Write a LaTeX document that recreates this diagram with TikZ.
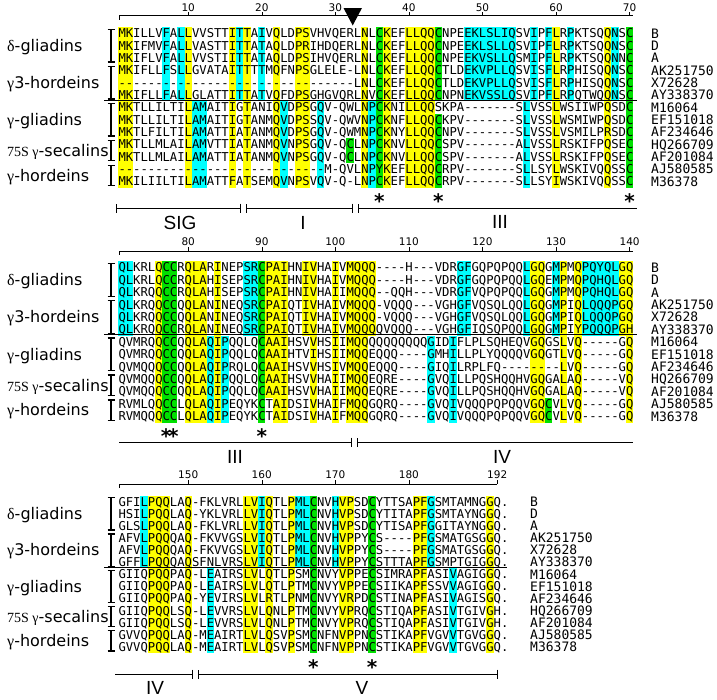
\documentclass[tikz,border=0pt]{standalone}
\usepackage{fontspec}
\setsansfont{DejaVu Sans}
\setmonofont{DejaVu Sans Mono}
\newfontfamily\grkfont{Liberation Serif}
\newfontfamily\segfont{Liberation Sans}
\usetikzlibrary{arrows.meta,positioning}

\definecolor{hlyellow}{RGB}{255,255,0}
\definecolor{hlcyan}{RGB}{0,255,255}
\definecolor{hlgreen}{RGB}{0,224,0}

\tikzset{
  seqtext/.style={anchor=base west,inner sep=0pt,font=\ttfamily\fontsize{12.22}{14}\selectfont},
  acctext/.style={anchor=base west,inner sep=0pt,font=\ttfamily\fontsize{13}{15}\selectfont},
  grouplabel/.style={anchor=west,inner sep=0pt,font=\sffamily\fontsize{16}{18}\selectfont},
  scalenum/.style={inner sep=0pt,font=\sffamily\fontsize{10.5}{12}\selectfont},
  seglabel/.style={inner sep=0pt,font=\segfont\fontsize{19}{22}\selectfont},
  starmark/.style={anchor=base,inner sep=0pt,font=\sffamily\bfseries\fontsize{20}{22}\selectfont},
  segline/.style={line width=0.9pt},
  grpbar/.style={line width=1.3pt},
  sepline/.style={line width=1.2pt},
}

\begin{document}
\begin{tikzpicture}[x=1pt,y=-1pt,>={Bar[width=9pt]}]
\useasboundingbox (0,0) rectangle (717,699);

% ---------- block 1 (1-70)
\def\yB{33.3}\def\sep{12.35}
\foreach \ca/\cb/\ra/\rb/\hc in {1/2/1/13/hlyellow, 7/7/1/6/hlcyan, 9/9/1/6/hlcyan,
  10/10/1/13/hlyellow, 11/12/7/13/hlcyan, 16/16/1/13/hlyellow, 17/17/1/6/hlcyan,
  18/18/1/13/hlyellow, 20/20/1/6/hlcyan, 22/22/1/13/hlyellow, 23/23/7/13/hlcyan,
  25/26/1/13/hlyellow, 28/28/7/13/hlcyan, 32/32/10/11/hlgreen, 34/34/1/13/hlyellow,
  35/35/7/13/hlcyan, 36/36/1/13/hlgreen, 37/37/1/13/hlyellow, 40/43/1/13/hlyellow,
  44/44/1/6/hlgreen, 44/44/8/13/hlgreen, 48/54/1/6/hlcyan, 56/56/7/13/hlcyan,
  57/57/1/6/hlcyan, 59/59/1/6/hlcyan, 60/60/1/13/hlyellow, 62/62/1/6/hlcyan,
  67/67/1/13/hlyellow, 68/68/1/6/hlcyan, 70/70/1/13/hlgreen}
  \fill[\hc] ({118.3+(\ca-1)*7.357},{\yB+(\ra-1.5)*\sep}) rectangle ({118.3+\cb*7.357},{\yB+(\rb-0.5)*\sep});
\foreach \r/\sq in {
  1/MKILLVFALLVVSTTITTAIVQLDPSVHVQERLNLCKEFLLQQCNPEEKLSLIQSVIPFLRPKTSQQNSC,
  2/MKIFMVFALLVASTTITTATAQLDPRIHDQERLNLCKEFLLQQCNPEEKLSLLQSVIPFLRPKTSQQNSC,
  3/MKIFLVFALLVVSTIITTATAQLDPSIHVQERLNLCKEFLLQQCNPEEKVSLLQSMIPFLRPKTSQQNNC,
  4/MKIFLLFSLLGVATAITTTTMQFNPSGLELE-LNLCKEFLLQQCTLDEKVPLLQSVISFLRPHISQQNSC,
  5/--------------------------------LNLCKEFLLQQCTLDEKVPLLQSVISFLRPHISQQNSC,
  6/MKIFLLFALLGLATTITTATVQFDPSGHGVQRLNVCKEFLLQQCNPNEKVSSLQSVIPFLRPQTWQQNSC,
  7/MKTLLILTILAMAITIGTANIQVDPSGQV-QWLNPCKNILLQQSKPA-------SLVSSLWSIIWPQSDC,
  8/MKTLLILTILAMAITIGTANMQVDPSSQV-QWVNPCKNFLLQQCKPV-------SLVSSLWSMIWPQSDC,
  9/MKTLFILTILAMATTIATANMQVDPSGQV-QWMNPCKNYLLQQCNPV-------SLVSSLVSMILPRSDC,
  10/MKTLLMLAILAMVTTIATANMQVNPSGQV-QCLNPCKNVLLQQCSPV-------ALVSSLRSKIFPQSEC,
  11/MKTLLMLAILAMATTIATANMQVNPSGQV-QCLNPCKNVLLQQCSPV-------ALVSSLRSKIFPQSEC,
  12/----------------------------M-QVLNPYKEFLLQQCRPV-------SLLSYLWSKIVQQSSC,
  13/MKILIILTILAMATTFATSEMQVNPSVQV-Q-LNPCKEFLLQQCRPV-------SLLSYIWSKIVQQSSC}
  \node[seqtext] (one-\r) at (118.3,{\yB+(\r-1)*\sep+4.45}) {\sq};

% scale 1
\draw (119.3,15.5) -- (633,15.5) (119.3,15.5) -- ++(0,4);
\foreach \c in {10,20,...,70}{
  \draw ({114.62+7.357*\c},15.5) -- ++(0,-4);
  \node[scalenum] (tick1-\c) at ({114.62+7.357*\c},7.5) {\c};
}
\fill (343.5,8) -- (362,8) -- (352.7,25.5) -- cycle;

% stars and regions 1
\foreach \c in {36,44,70}
  \node[starmark] (star1-\c) at ({114.62+7.357*\c},208.5) {*};
\draw[segline,<->] (116,208) -- (241,208);
\draw[segline,<->] (246,208) -- (353,208);
\draw[segline,<-] (358,208) -- (637,208);
\node[seglabel] (sig) at (180,223) {SIG};
\node[seglabel] (reg1) at (303,223) {I};
\node[seglabel] (reg3a) at (500,222) {III};

% ---------- block 2 (71-140)
\def\yB{267.5}\def\sep{12.4}
\foreach \ca/\cb/\ra/\rb/\hc in {1/2/1/6/hlcyan, 6/6/1/13/hlyellow, 7/8/1/13/hlgreen,
  10/12/1/13/hlyellow, 13/13/7/13/hlcyan, 14/14/1/13/hlyellow, 15/15/7/13/hlcyan,
  18/19/1/6/hlcyan, 20/20/1/13/hlgreen, 21/21/1/11/hlyellow, 22/23/1/13/hlyellow,
  26/26/1/6/hlyellow, 27/27/1/13/hlyellow, 30/30/1/13/hlyellow, 32/34/1/13/hlyellow,
  35/35/1/6/hlyellow, 43/43/7/13/hlcyan, 46/46/7/13/hlcyan, 47/48/1/6/hlcyan,
  56/56/1/6/hlcyan, 57/58/1/13/hlyellow, 59/59/12/13/hlgreen, 60/60/1/6/hlcyan,
  61/61/1/13/hlyellow, 63/63/1/13/hlyellow, 64/68/1/6/hlcyan, 69/69/1/6/hlyellow,
  70/70/1/13/hlyellow}
  \fill[\hc] ({118.3+(\ca-1)*7.357},{\yB+(\ra-1.5)*\sep}) rectangle ({118.3+\cb*7.357},{\yB+(\rb-0.5)*\sep});
\foreach \r/\sq in {
  1/QLKRLQCCRQLARINEPSRCPAIHNIVHAIVMQQQ----H---VDRGFGQPQPQQLGQGMPMQPQYQLGQ,
  2/QLKRLQCCRQLAHISEPSRCPAIHNIVHAIVMQQQ----H---VDRGFGQPQPQQLGQEMPMQPQHQLGQ,
  3/QLKRQQCCRQLAHISEPSRCPAIHNIVHAIIMQQQ--QQH---VDRGFVQPQPQQLGQGMPMQPQHQLGQ,
  4/QLKRQQCCQQLANINEQSRCPAIQTIVHAIVMQQQ-VQQQ---VGHGFVQSQLQQLGQGMPIQLQQQPGQ,
  5/QLKRQQCCQQLANINEQSRCPAIQTIVHAIVMQQQ-VQQQ---VGHGFVQSQLQQLGQGMPIQLQQQPGQ,
  6/QLKRQQCCRQLANINEQSRCPAIQTIVHAIVMQQQQVQQQ---VGHGFIQSQPQQLGQGMPIYPQQQPGH,
  7/QVMRQQCCQQLAQIPQQLQCAAIHSVVHSIIMQQQQQQQQQQGIDIFLPLSQHEQVGQGSLVQ-----GQ,
  8/QVMRQQCCQQLAQIPQQLQCAAIHTVIHSIIMQQEQQQ----GMHILLPLYQQQQVGQGTLVQ-----GQ,
  9/QVMQQQCCQQLAQIPRQLQCAAIHSVVHSIVMQQEQQQ----GIQILRPLFQ--------LVQ-----GQ,
  10/QVMQQQCCQQLAQIPQQLQCAAIHSVVHAIIMQQEQRE----GVQILLPQSHQQHVGQGALAQ-----VQ,
  11/QVMQQQCCQQLAQIPQQLQCAAIHSVVHAIIMQQEQRE----GVQILLPQSHQQHVGQGALAQ-----VQ,
  12/RVMLQQCCLQLAQIPEQYKCTAIDSIVHAIFMQQGQRQ----GVQIVQQQPQPQQVGQCVLVQ-----GQ,
  13/RVMQQQCCLQLAQIPEQYKCTAIDSIVHAIFMQQGQRQ----GVQIVQQQPQPQQVGQCVLVQ-----GQ}
  \node[seqtext] (two-\r) at (118.3,{\yB+(\r-1)*\sep+4.45}) {\sq};

% scale 2
\draw (119.3,251) -- (633,251) (119.3,251) -- ++(0,4);
\foreach \c in {10,20,...,70}{
  \draw ({114.62+7.357*\c},251) -- ++(0,-4);
  \node[scalenum] (tick2-\c) at ({114.62+7.357*\c},242) {\the\numexpr\c+70\relax};
}

% stars and regions 2
\foreach \c in {7,8,20}
  \node[starmark] (star2-\c) at ({114.62+7.357*\c},443.5) {*};
\draw[segline,->] (119,442) -- (352,442);
\draw[segline,<-] (357,442) -- (633,442);
\node[seglabel] (reg3b) at (235,457) {III};
\node[seglabel] (reg4a) at (502,457) {IV};

% ---------- block 3 (141-192)
\def\yB{501.7}\def\sep{12.1}
\foreach \ca/\cb/\ra/\rb/\hc in {4/4/1/6/hlcyan, 5/7/1/13/hlyellow, 10/10/1/13/hlyellow,
  13/13/7/13/hlcyan, 18/19/1/13/hlyellow, 20/20/1/6/hlcyan, 21/21/1/13/hlyellow,
  24/24/1/13/hlyellow, 25/26/1/6/hlcyan, 27/27/1/13/hlgreen, 30/30/1/6/hlcyan,
  31/32/1/13/hlyellow, 35/35/1/13/hlgreen, 41/42/1/13/hlyellow, 43/43/1/6/hlcyan,
  46/46/7/13/hlcyan, 51/51/1/13/hlyellow}
  \fill[\hc] ({118.3+(\ca-1)*7.357},{\yB+(\ra-1.5)*\sep}) rectangle ({118.3+\cb*7.357},{\yB+(\rb-0.5)*\sep});
\foreach \r/\sq in {
  1/GFILPQQLAQ-FKLVRLLVIQTLPMLCNVHVPSDCYTTSAPFGSMTAMNGGQ.,
  2/HSILPQQLAQ-YKLVRLLVIQTLPMLCNVHVPSDCYTITAPFGSMTAYNGGQ.,
  3/GLSLPQQLAQ-FKLVRLLVIQTLPMLCNVHVPSDCYTISAPFGGITAYNGGQ.,
  4/AFVLPQQQAQ-FKVVGSLVIQTLPMLCNVHVPPYCS----PFGSMATGSGGQ.,
  5/AFVLPQQQAQ-FKVVGSLVIQTLPMLCNVHVPPYCS----PFGSMATGSGGQ.,
  6/GFFLPQQQAQSFNLVRSLVIQTLPMLCNVHVPPYCSTTTAPFGSMPTGIGGQ.,
  7/GIIQPQQPAQ-LEAIRSLVLQTLPSMCNVYVPPECSIMRAPFASIVAGIGGQ.,
  8/GIIQPQQPAQ-LEAIRSLVLQTLPTMCNVYVPPECSIIKAPFSSVVAGIGGQ.,
  9/GIIQPQQPAQ-YEVIRSLVLRTLPNMCNVYVRPDCSTINAPFASIVAGISGQ.,
  10/GIIQPQQLSQ-LEVVRSLVLQNLPTMCNVYVPRQCSTIQAPFASIVTGIVGH.,
  11/GIIQPQQLSQ-LEVVRSLVLQNLPTMCNVYVPRQCSTIQAPFASIVTGIVGH.,
  12/GVVQPQQLAQ-MEAIRTLVLQSVPSMCNFNVPPNCSTIKAPFVGVVTGVGGQ.,
  13/GVVQPQQLAQ-MEAIRTLVLQSVPSMCNFNVPPNCSTIKAPFVGVVTGVGGQ.}
  \node[seqtext] (three-\r) at (118.3,{\yB+(\r-1)*\sep+4.45}) {\sq};

% scale 3
\draw (119.3,484) -- (497.2,484) (119.3,484) -- ++(0,4);
\foreach \c/\lab in {10/150,20/160,30/170,40/180,52/192}{
  \draw ({114.62+7.357*\c},484) -- ++(0,-4);
  \node[scalenum] (tick3-\c) at ({114.62+7.357*\c},474.5) {\lab};
}

% stars and regions 3
\foreach \c in {27,35}
  \node[starmark] (star3-\c) at ({114.62+7.357*\c},674.5) {*};
\draw[segline,->] (115,674) -- (193,674);
\draw[segline,<->] (198,674) -- (498,674);
\node[seglabel] (reg4b) at (155,688) {IV};
\node[seglabel] (reg5) at (362,688) {V};

% ---------- labels, brackets, accessions
\foreach \bk/\yB/\sep/\xacc/\xend in {1/33.3/12.35/651/637, 2/267.5/12.4/651/637, 3/501.7/12.1/530/507}{
  \draw[sepline] (104,{\yB+5.5*\sep-1}) -- (\xend,{\yB+5.5*\sep-1});
  \foreach \ra/\rb in {1/3,4/6,7/9,10/11,12/13}
    \draw[grpbar] (107.5,{\yB+(\ra-1)*\sep-4}) -- (115,{\yB+(\ra-1)*\sep-4})
      (111,{\yB+(\ra-1)*\sep-4}) -- (111,{\yB+(\rb-1)*\sep+4})
      (107.5,{\yB+(\rb-1)*\sep+4}) -- (115,{\yB+(\rb-1)*\sep+4});
  \node[grouplabel] (delta\bk) at (7,{\yB+\sep+1.5}) {{\grkfont δ}-gliadins};
  \node[grouplabel] (gthree\bk) at (7,{\yB+4*\sep+1.5}) {{\grkfont γ}3-hordeins};
  \node[grouplabel] (ggli\bk) at (7,{\yB+7*\sep+1.5}) {{\grkfont γ}-gliadins};
  \node[grouplabel] (gsec\bk) at (7,{\yB+9.5*\sep+1.5}) {{\grkfont\fontsize{14}{16}\selectfont 75S γ}-secalins};
  \node[grouplabel] (ghor\bk) at (7,{\yB+11.5*\sep+1.5}) {{\grkfont γ}-hordeins};
  \foreach \r/\acc in {1/B,2/D,3/A,4/AK251750,5/X72628,6/AY338370,7/M16064,8/EF151018,
    9/AF234646,10/HQ266709,11/AF201084,12/AJ580585,13/M36378}
    \node[acctext] (acc\bk-\r) at (\xacc,{\yB+(\r-1)*\sep+4.7}) {\acc};
}
\end{tikzpicture}
\end{document}
